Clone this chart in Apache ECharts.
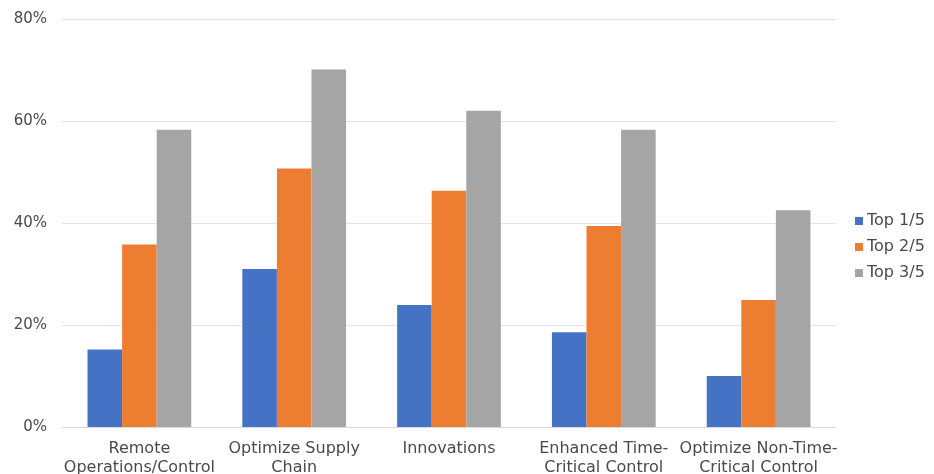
<!DOCTYPE html>
<html>
<head>
<meta charset="utf-8">
<script src="https://cdn.jsdelivr.net/npm/echarts@6/dist/echarts.min.js"></script>
<style>
  html, body { margin: 0; padding: 0; background: #fff; }
  #chart { width: 934px; height: 474px; }
</style>
</head>
<body>
<div id="chart"></div>
<script>
// Categories along the x axis
const categories = [
  'Remote\nOperations/Control',
  'Optimize Supply\nChain',
  'Innovations',
  'Enhanced Time-\nCritical Control',
  'Optimize Non-Time-\nCritical Control'
];

// Share of respondents (percent) per ranking bucket
const top1of5 = [15.2, 31.0, 23.9, 18.6, 10.0];
const top2of5 = [35.8, 50.7, 46.3, 39.4, 24.9];
const top3of5 = [58.3, 70.1, 62.0, 58.3, 42.5];

const seriesNames = ['Top 1/5', 'Top 2/5', 'Top 3/5'];
const seriesColors = ['#4472C4', '#ED7D31', '#A5A5A5'];

// Y axis ticks
const yMin = 0;
const yMax = 80;
const yStep = 20;

const fontFamily = 'DejaVu Sans, Verdana, sans-serif';
const textColor = '#4a4a4a';

const chart = echarts.init(document.getElementById('chart'), null, { renderer: 'canvas' });

const valueSets = [top1of5, top2of5, top3of5];

chart.setOption({
  animation: false,
  backgroundColor: '#ffffff',
  grid: { left: 62, right: 98, top: 19, bottom: 47, containLabel: false, outerBoundsMode: 'none' },
  legend: {
    orient: 'vertical',
    left: 850,
    top: 208,
    itemWidth: 8,
    itemHeight: 8,
    itemGap: 10,
    icon: 'rect',
    textStyle: { fontFamily, fontSize: 16, lineHeight: 16, color: textColor, padding: [0, 0, 0, -1] },
    data: seriesNames
  },
  xAxis: {
    type: 'category',
    data: categories,
    axisTick: { show: false },
    axisLine: { show: true, lineStyle: { color: '#d9d9d9', width: 1 } },
    axisLabel: {
      interval: 0,
      margin: 12,
      fontFamily,
      fontSize: 16,
      lineHeight: 19,
      color: textColor
    }
  },
  yAxis: {
    type: 'value',
    min: yMin,
    max: yMax,
    interval: yStep,
    axisLine: { show: false },
    axisTick: { show: false },
    splitLine: { lineStyle: { color: '#e3e3e3', width: 1 } },
    axisLabel: {
      margin: 15,
      fontFamily,
      fontSize: 15,
      color: textColor,
      formatter: v => v + '%'
    }
  },
  series: seriesNames.map((name, i) => ({
    name,
    type: 'bar',
    data: valueSets[i],
    barGap: '0%',
    barCategoryGap: '33%',
    itemStyle: { color: seriesColors[i] }
  }))
});
</script>
</body>
</html>
